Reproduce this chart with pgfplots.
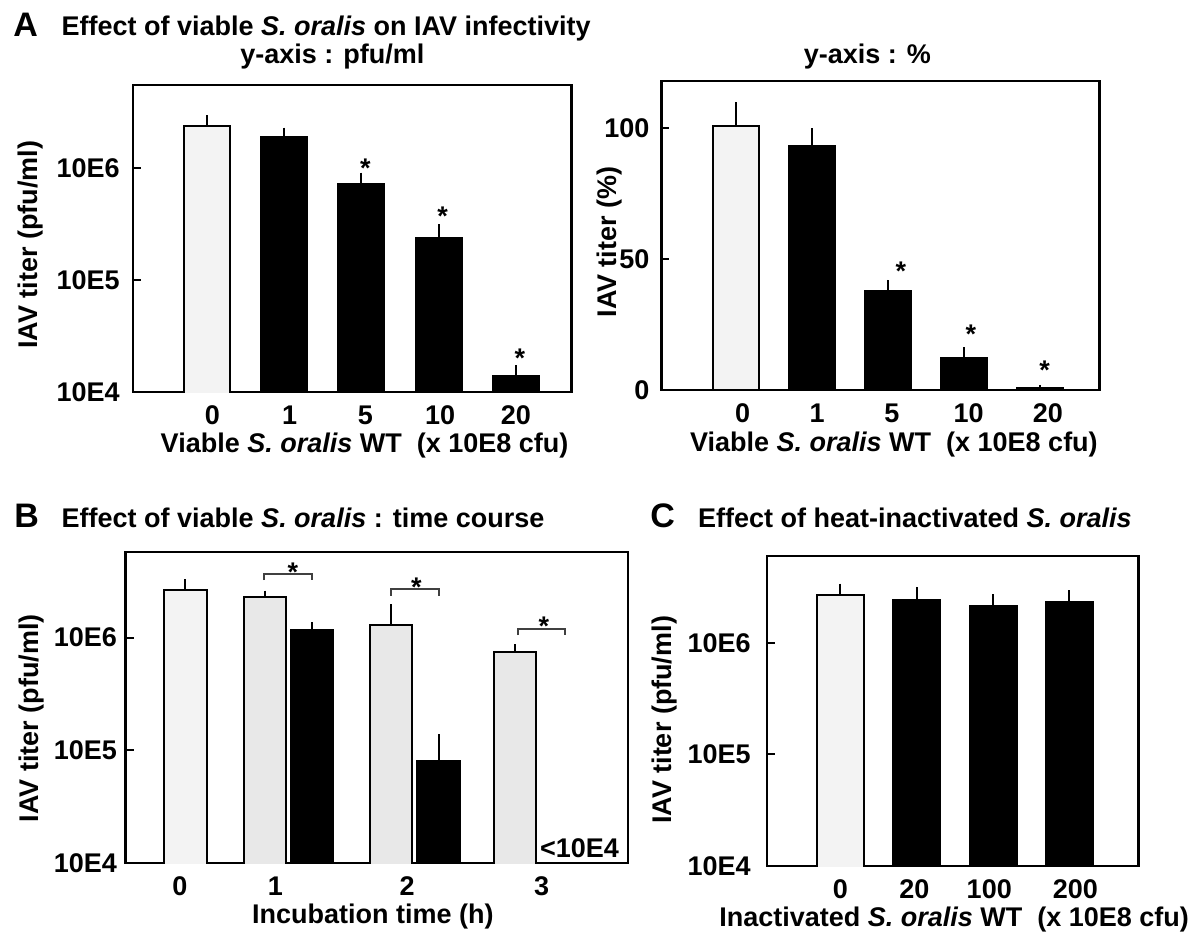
\documentclass[border=0pt]{standalone}
\usepackage{pgfplots}
\pgfplotsset{compat=1.18}
\usepackage{fontspec}
\setmainfont{Liberation Sans}
\definecolor{lightA}{HTML}{F3F3F3}
\definecolor{lightB}{HTML}{E8E8E8}
\definecolor{brk}{HTML}{404040}
\newcommand\lab{\fontsize{13.5}{16}\selectfont\bfseries}
\newcommand\panelfont{\fontsize{17}{20}\selectfont\bfseries}
\pgfplotsset{
  myaxis/.style={
    scale only axis, anchor=south west,
    axis line style={line width=1.2pt},
    ytick pos=left, tick align=inside, major tick length=4pt,
    ytick style={line width=1pt, black},
    xtick style={draw=none},
    minor tick length=0pt,
    minor tick num=0,
    tick label style={font=\lab},
    label style={font=\lab},
    xticklabel style={anchor=base, yshift=-16pt},
    yticklabel style={anchor=east, inner xsep=0pt},
  },
  lightbar/.style={ybar, bar shift=0pt, fill=#1, draw=black, line width=1pt,
    error bars/.cd, y dir=plus, y explicit, error mark=none,
    error bar style={line width=1pt, black}},
  darkbar/.style={ybar, bar shift=0pt, fill=black, draw=black, line width=1pt,
    error bars/.cd, y dir=plus, y explicit, error mark=none,
    error bar style={line width=1pt, black}},
}
\begin{document}
\begin{tikzpicture}
\useasboundingbox (0,0) rectangle (600.5pt,-466pt);

% ---------------- Panel A titles
\node[anchor=base west, font=\panelfont, inner sep=0pt] at (6.5pt,-18pt) {A};
\node[anchor=base west, font=\lab, inner sep=0pt] at (30.6pt,-17.6pt) {Effect of viable \textit{S. oralis} on IAV infectivity};
\node[anchor=base, font=\lab, inner sep=0pt] at (166.2pt,-31.5pt) {y-axis : pfu/ml};
\node[anchor=base, font=\lab, inner sep=0pt] at (433.7pt,-31.5pt) {y-axis : \%};

% ---------------- Panel A left
\begin{axis}[myaxis,
  at={(66.6pt,-196pt)}, width=219.1pt, height=153.5pt,
  xmin=-0.953, xmax=4.717, ymode=log, ymin=1e4, ymax=5.48e6,
  bar width=0.595,
  xtick={0.07,1.07,2.05,3.02,4.0}, xticklabels={0,1,5,10,20},
  ytick={1e4,1e5,1e6}, yticklabels={10E4,10E5,10E6},
  yticklabel style={xshift=-6.6pt},
  xlabel={Viable \textit{S. oralis} WT\ \ (x 10E8 cfu)},
  xlabel style={at={(axis description cs:0.528,0)}, anchor=base, yshift=-30pt},
  ylabel={IAV titer (pfu/ml)},
  ylabel style={at={(axis description cs:-0.234,0.479)}, anchor=center},
]
\addplot[lightbar=lightA] coordinates {(0,2.34e6) +- (0,0.60e6)};
\addplot[darkbar] coordinates {(1,1.90e6) +- (0,0.38e6) (2,7.13e5) +- (0,1.94e5) (3,2.36e5) +- (0,0.79e5) (4,1.38e4) +- (0,0.35e4)};
\node[anchor=north, inner sep=0pt, font=\lab] at (axis cs:2.05,1.22e6) {*};
\node[anchor=north, inner sep=0pt, font=\lab] at (axis cs:3.05,4.48e5) {*};
\node[anchor=north, inner sep=0pt, font=\lab] at (axis cs:4.05,2.46e4) {*};
\end{axis}

% ---------------- Panel A right
\begin{axis}[myaxis,
  at={(330.65pt,-195pt)}, width=219.05pt, height=154.5pt,
  xmin=-0.978, xmax=4.778, ymin=0, ymax=118.1,
  bar width=0.6,
  xtick={0.09,1.07,2.05,3.06,4.1}, xticklabels={0,1,5,10,20},
  ytick={0,50,100}, yticklabels={0,50,100},
  yticklabel style={xshift=-5.75pt},
  xlabel={Viable \textit{S. oralis} WT\ \ (x 10E8 cfu)},
  xlabel style={at={(axis description cs:0.531,0)}, anchor=base, yshift=-30.8pt},
  ylabel={IAV titer (\%)},
  ylabel style={at={(axis description cs:-0.118,0.479)}, anchor=center},
]
\addplot[lightbar=lightA] coordinates {(0,100.8) +- (0,9.3)};
\addplot[darkbar] coordinates {(1,93.3) +- (0,6.7) (2,37.7) +- (0,4.4) (3,12.1) +- (0,4.2) (4,0.77) +- (0,1.2)};
\node[anchor=north, inner sep=0pt, font=\lab] at (axis cs:2.17,49.2) {*};
\node[anchor=north, inner sep=0pt, font=\lab] at (axis cs:3.09,24.9) {*};
\node[anchor=north, inner sep=0pt, font=\lab] at (axis cs:4.06,11.2) {*};
\end{axis}

% ---------------- Panel B
\node[anchor=base west, font=\panelfont, inner sep=0pt] at (7pt,-263.5pt) {B};
\node[anchor=base west, font=\lab, inner sep=0pt] at (30.65pt,-263.5pt) {Effect of viable \textit{S. oralis} : time course};
\begin{axis}[myaxis,
  at={(62.85pt,-431.5pt)}, width=251.15pt, height=155.5pt,
  xmin=-0.478, xmax=3.54, ymode=log, ymin=1e4, ymax=5.75e6,
  bar width=0.34,
  xtick={-0.044,0.72,1.774,2.85}, xticklabels={0,1,2,3},
  ytick={1e4,1e5,1e6}, yticklabels={10E4,10E5,10E6},
  yticklabel style={xshift=-4.2pt},
  xlabel={Incubation time (h)},
  xlabel style={at={(axis description cs:0.492,0)}, anchor=base, yshift=-30pt},
  ylabel={IAV titer (pfu/ml)},
  ylabel style={at={(axis description cs:-0.187,0.466)}, anchor=center},
]
\addplot[lightbar=lightA] coordinates {(0,2.64e6) +- (0,0.67e6)};
\addplot[lightbar=lightB] coordinates {(0.637,2.29e6) +- (0,0.32e6) (1.643,1.29e6) +- (0,0.68e6) (2.636,7.41e5) +- (0,1.32e5)};
\addplot[darkbar] coordinates {(1.014,1.175e6) +- (0,0.195e6) (2.026,8.04e4) +- (0,5.86e4)};
\addplot[brk, line width=1pt, no marks, sharp plot] coordinates {(0.629,3.24e6) (0.629,3.66e6) (1.015,3.66e6) (1.015,3.24e6)};
\addplot[brk, line width=1pt, no marks, sharp plot] coordinates {(1.642,2.34e6) (1.642,2.70e6) (2.027,2.70e6) (2.027,2.34e6)};
\addplot[brk, line width=1pt, no marks, sharp plot] coordinates {(2.66,1.05e6) (2.66,1.19e6) (3.039,1.19e6) (3.039,1.05e6)};
\node[anchor=north, inner sep=0pt, font=\lab] at (axis cs:0.86,4.62e6) {*};
\node[anchor=north, inner sep=0pt, font=\lab] at (axis cs:1.847,3.43e6) {*};
\node[anchor=north, inner sep=0pt, font=\lab] at (axis cs:2.868,1.53e6) {*};
\node[anchor=base west, inner sep=0pt, font=\lab] at (axis cs:2.834,1.124e4) {<10E4};
\end{axis}

% ---------------- Panel C
\node[anchor=base west, font=\panelfont, inner sep=0pt] at (325pt,-263.5pt) {C};
\node[anchor=base west, font=\lab, inner sep=0pt] at (348.85pt,-263.5pt) {Effect of heat-inactivated \textit{S. oralis}};
\begin{axis}[myaxis,
  at={(383.35pt,-433pt)}, width=185.9pt, height=155pt,
  xmin=-0.967, xmax=3.906, ymode=log, ymin=1e4, ymax=6.0e6,
  bar width=0.616,
  xtick={0.0,0.97,1.95,3.08}, xticklabels={0,20,100,200},
  ytick={1e4,1e5,1e6}, yticklabels={10E4,10E5,10E6},
  yticklabel style={xshift=-7.85pt},
  xlabel={Inactivated \textit{S. oralis} WT\ \ (x 10E8 cfu)},
  xlabel style={at={(axis description cs:0.504,0)}, anchor=base, yshift=-30pt},
  ylabel={IAV titer (pfu/ml)},
  ylabel style={at={(axis description cs:-0.2735,0.471)}, anchor=center},
]
\addplot[lightbar=lightA] coordinates {(0,2.70e6) +- (0,0.69e6)};
\addplot[darkbar] coordinates {(1,2.42e6) +- (0,0.76e6) (2,2.12e6) +- (0,0.60e6) (3,2.32e6) +- (0,0.63e6)};
\end{axis}
\end{tikzpicture}
\end{document}
